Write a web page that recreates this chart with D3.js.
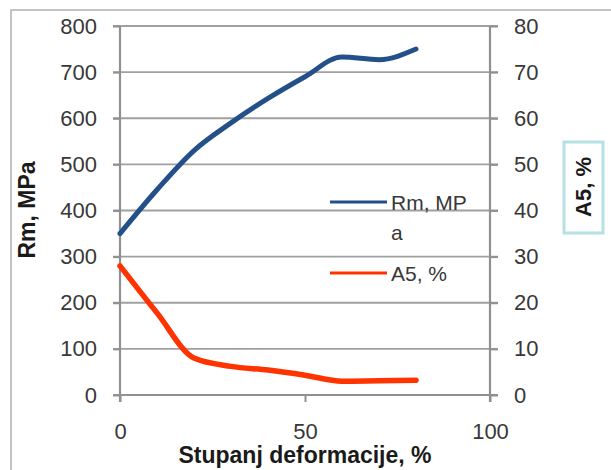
<!DOCTYPE html>
<html><head><meta charset="utf-8">
<script src="https://cdn.jsdelivr.net/npm/d3@7"></script>
<style>body{margin:0;background:#fff;} svg{display:block;font-family:"Liberation Sans",Arial,sans-serif;}</style>
</head><body>
<svg id="c" width="611" height="470"></svg>
<script>
const deformation = [0, 10, 20, 30, 40, 50, 60, 70, 80];
const rmValues = [350, 445, 530, 590, 643, 690, 733, 727, 750];
const a5Values = [28, 17.8, 8, 6.2, 5.4, 4.3, 3.0, 3.1, 3.2];
const leftTicks = [0, 100, 200, 300, 400, 500, 600, 700, 800];
const rightTicks = [0, 10, 20, 30, 40, 50, 60, 70, 80];
const xTicks = [0, 50, 100];

const svg = d3.select("#c");
const x = d3.scaleLinear().domain([0, 100]).range([120, 490]);
const yL = d3.scaleLinear().domain([0, 800]).range([395, 26]);
const yR = d3.scaleLinear().domain([0, 80]).range([395, 26]);

// outer frame
svg.append("path").attr("d", "M11,470 V10 H611").attr("fill", "none").attr("stroke", "#b0b0b0").attr("stroke-width", 1.5);

// gridlines
svg.append("g").selectAll("line").data(leftTicks.slice(1)).join("line")
  .attr("x1", 113).attr("x2", 498).attr("y1", d => yL(d)).attr("y2", d => yL(d))
  .attr("stroke", "#a0a0a0").attr("stroke-width", 1.8);

// left axis
const gL = svg.append("g").attr("transform", "translate(120,0)")
  .call(d3.axisLeft(yL).tickValues(leftTicks).tickSize(7).tickPadding(16));
// right axis
const gR = svg.append("g").attr("transform", "translate(490,0)")
  .call(d3.axisRight(yR).tickValues(rightTicks).tickSize(8).tickPadding(16));
// bottom axis
const gB = svg.append("g").attr("transform", "translate(0,395)")
  .call(d3.axisBottom(x).tickValues(xTicks).tickSize(7).tickPadding(21));
[gL, gR, gB].forEach(g => {
  g.select(".domain").attr("stroke", "#909090").attr("stroke-width", 2.2);
  g.selectAll(".tick line").attr("stroke", "#909090").attr("stroke-width", 2);
  g.selectAll(".tick text").attr("fill", "#383838").attr("font-size", 22)
    .attr("font-family", "'Liberation Sans',Arial,sans-serif");
});
gL.select(".domain").attr("d", "M120,402V26").attr("transform", "translate(-120,0)");
gR.select(".domain").attr("d", "M490,402V26").attr("transform", "translate(-490,0)");
gB.select(".domain").attr("d", "M113,0H498");
gB.selectAll(".tick line").attr("y1", 0);

// lines
const curve = d3.curveMonotoneX;
const lineRm = d3.line().x((d, i) => x(deformation[i])).y(d => yL(d)).curve(curve);
const lineA5 = d3.line().x((d, i) => x(deformation[i])).y(d => yR(d)).curve(curve);
svg.append("path").attr("d", lineRm(rmValues)).attr("fill", "none")
  .attr("stroke", "#24508a").attr("stroke-width", 5).attr("stroke-linecap", "round");
svg.append("path").attr("d", lineA5(a5Values)).attr("fill", "none")
  .attr("stroke", "#ff3300").attr("stroke-width", 5.5).attr("stroke-linecap", "round");

// legend
svg.append("line").attr("x1", 330).attr("x2", 387).attr("y1", 202).attr("y2", 202).attr("stroke", "#24508a").attr("stroke-width", 3);
svg.append("line").attr("x1", 330).attr("x2", 387).attr("y1", 273).attr("y2", 273).attr("stroke", "#ff3300").attr("stroke-width", 3);
const lt = svg.append("g").attr("fill", "#383838").attr("font-size", 21);
lt.append("text").attr("x", 391).attr("y", 210).text("Rm, MP");
lt.append("text").attr("x", 391).attr("y", 240).text("a");
lt.append("text").attr("x", 391).attr("y", 281).text("A5, %");

// axis titles
svg.append("text").attr("transform", "translate(35,210) rotate(-90)").attr("text-anchor", "middle")
  .attr("font-weight", "bold").attr("font-size", 23).attr("fill", "#1a1a1a").text("Rm, MPa");
svg.append("text").attr("x", 305).attr("y", 463).attr("text-anchor", "middle")
  .attr("font-weight", "bold").attr("font-size", 23).attr("fill", "#1a1a1a").text("Stupanj deformacije, %");
svg.append("rect").attr("x", 564).attr("y", 142).attr("width", 39).attr("height", 91)
  .attr("fill", "none").attr("stroke", "#b5e0e4").attr("stroke-width", 3);
svg.append("text").attr("transform", "translate(591,187) rotate(-90)").attr("text-anchor", "middle")
  .attr("font-weight", "bold").attr("font-size", 22).attr("fill", "#1a1a1a").text("A5, %");
</script>
</body></html>
